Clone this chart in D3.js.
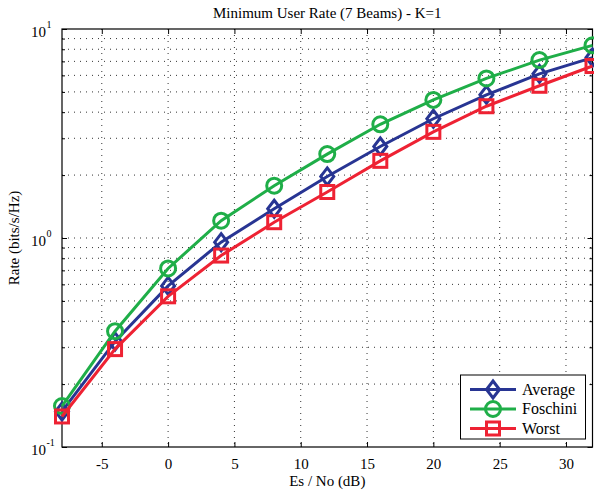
<!DOCTYPE html>
<html><head><meta charset="utf-8">
<script src="https://cdn.jsdelivr.net/npm/d3@7"></script>
<style>body{margin:0;background:#fff}svg{display:block}svg text{font-family:"Liberation Serif","Times New Roman",serif !important}</style>
</head><body><svg id="c" width="594" height="491"></svg>
<script>
const snr = [-8, -4, 0, 4, 8, 12, 16, 20, 24, 28, 32];
const average  = [0.148, 0.32, 0.59, 0.955, 1.38, 1.97, 2.74, 3.72, 4.84, 6.1, 7.3];
const foschini = [0.157, 0.358, 0.715, 1.21, 1.78, 2.52, 3.5, 4.58, 5.8, 7.1, 8.35];
const worst    = [0.140, 0.294, 0.526, 0.824, 1.19, 1.66, 2.34, 3.22, 4.27, 5.35, 6.65];
const xTicks = [-5, 0, 5, 10, 15, 20, 25, 30];
const seriesNames = ["Average", "Foschini", "Worst"];
const title = "Minimum User Rate (7 Beams) - K=1";
const xLabel = "Es / No (dB)";
const yLabel = "Rate (bits/s/Hz)";

const FONT = "Liberation Serif";
const L = 62, R = 592.5, T = 29, B = 447;
const svg = d3.select("#c");
const x = d3.scaleLinear().domain([-8, 32]).range([L, R]);
const y = d3.scaleLog().domain([0.1, 10]).range([B, T]);

const colors = {Average: "#283593", Foschini: "#1fae48", Worst: "#ee2233"};
const data = {Average: average, Foschini: foschini, Worst: worst};

// grid
const minor = [];
[0.1, 1].forEach(d => { for (let k = 2; k <= 9; k++) minor.push(d * k); });
const g = svg.append("g");
g.selectAll(".hg").data(minor.concat([1])).join("line")
  .attr("x1", L).attr("x2", R).attr("y1", d => y(d)).attr("y2", d => y(d))
  .attr("stroke", "#333").attr("stroke-width", 1).attr("stroke-dasharray", "1,5");
g.selectAll(".vg").data(xTicks).join("line")
  .attr("x1", d => x(d)).attr("x2", d => x(d)).attr("y1", T).attr("y2", B)
  .attr("stroke", "#333").attr("stroke-width", 1).attr("stroke-dasharray", "1,5");

// axes with inner ticks
const ax = svg.append("g").attr("transform", `translate(0,${B})`)
  .call(d3.axisBottom(x).tickValues(xTicks).tickSize(-5).tickPadding(11).tickFormat(d => String(d)));
const axT = svg.append("g").attr("transform", `translate(0,${T})`)
  .call(d3.axisTop(x).tickValues(xTicks).tickSize(-5).tickFormat(""));
const ayL = svg.append("g").attr("transform", `translate(${L},0)`)
  .call(d3.axisLeft(y).tickValues(minor).tickSize(-3).tickFormat(""));
const ayL2 = svg.append("g").attr("transform", `translate(${L},0)`)
  .call(d3.axisLeft(y).tickValues([0.1, 1, 10]).tickSize(-5).tickFormat(""));
const ayR = svg.append("g").attr("transform", `translate(${R},0)`)
  .call(d3.axisRight(y).tickValues(minor).tickSize(-3).tickFormat(""));
const ayR2 = svg.append("g").attr("transform", `translate(${R},0)`)
  .call(d3.axisRight(y).tickValues([0.1, 1, 10]).tickSize(-5).tickFormat(""));
[ax, axT, ayL, ayL2, ayR, ayR2].forEach(a => {
  a.attr("font-family", FONT);
  a.selectAll(".domain").remove();
  a.selectAll(".tick line").attr("stroke", "#000");
});
ax.selectAll(".tick text").attr("font-size", 15).attr("fill", "#000")
  .attr("font-family", FONT);

svg.append("rect").attr("x", L).attr("y", T).attr("width", R - L).attr("height", B - T)
  .attr("fill", "none").attr("stroke", "#000").attr("stroke-width", 1.2);

// y labels 10^n
[[10, "1"], [1, "0"], [0.1, "-1"]].forEach(([v, e]) => {
  svg.append("text").attr("x", 46).attr("y", y(v) + 7.5).attr("font-family", FONT)
    .attr("text-anchor", "end").attr("font-size", 15).text("10");
  svg.append("text").attr("x", 46.5).attr("y", y(v) - 1.5).attr("font-family", FONT)
    .attr("font-size", 10).text(e);
});

// lines & markers
const line = d3.line().x((d, i) => x(snr[i])).y(d => y(d));
function marker(sel, name, cx, cy) {
  const c = colors[name];
  if (name === "Average") {
    sel.append("path").attr("d", `M${cx},${cy-8.5}L${cx+6.5},${cy}L${cx},${cy+8.5}L${cx-6.5},${cy}Z`)
      .attr("fill", "none").attr("stroke", c).attr("stroke-width", 3);
  } else if (name === "Foschini") {
    sel.append("circle").attr("cx", cx).attr("cy", cy).attr("r", 7.5)
      .attr("fill", "none").attr("stroke", c).attr("stroke-width", 3);
  } else {
    sel.append("rect").attr("x", cx - 6.5).attr("y", cy - 6.5).attr("width", 13).attr("height", 13)
      .attr("fill", "none").attr("stroke", c).attr("stroke-width", 3);
  }
}
seriesNames.forEach(name => {
  const gs = svg.append("g");
  gs.append("path").datum(data[name]).attr("d", line).attr("fill", "none")
    .attr("stroke", colors[name]).attr("stroke-width", 3);
  data[name].forEach((v, i) => marker(gs, name, x(snr[i]), y(v)));
});

// legend
const lg = svg.append("g");
lg.append("rect").attr("x", 460.5).attr("y", 375).attr("width", 125).attr("height", 64)
  .attr("fill", "#fff").attr("stroke", "#000").attr("stroke-width", 1);
seriesNames.forEach((name, i) => {
  const yy = 389.5 + i * 19.5;
  lg.append("line").attr("x1", 470).attr("x2", 516).attr("y1", yy).attr("y2", yy)
    .attr("stroke", colors[name]).attr("stroke-width", 3);
  marker(lg, name, 493, yy);
  lg.append("text").attr("x", 522).attr("y", yy + 5).attr("font-family", FONT)
    .attr("font-size", 16).text(name);
});

// titles
svg.append("text").attr("x", (L + R) / 2).attr("y", 18).attr("text-anchor", "middle")
  .attr("font-family", FONT).attr("font-size", 15).text(title);
svg.append("text").attr("x", (L + R) / 2).attr("y", 486).attr("text-anchor", "middle")
  .attr("font-family", FONT).attr("font-size", 15).text(xLabel);
svg.append("text").attr("transform", `translate(19,${(T + B) / 2}) rotate(-90)`)
  .attr("font-family", FONT).attr("text-anchor", "middle").attr("font-size", 15).text(yLabel);
</script></body></html>
